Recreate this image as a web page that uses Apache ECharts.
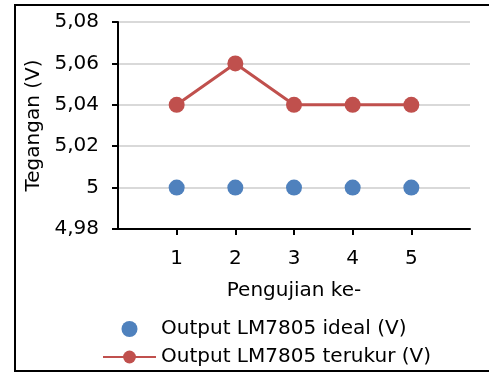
<!DOCTYPE html>
<html>
<head>
<meta charset="utf-8">
<script src="https://cdn.jsdelivr.net/npm/echarts@6/dist/echarts.min.js"></script>
<style>
  html, body { margin: 0; padding: 0; background: #fff; }
  #chart { width: 489px; height: 372px; }
</style>
</head>
<body>
<div id="chart"></div>
<script>
// Test number (x) and measured voltages (y)
const testNumbers = [1, 2, 3, 4, 5];
const idealOutput = [5.00, 5.00, 5.00, 5.00, 5.00];
const measuredOutput = [5.04, 5.06, 5.04, 5.04, 5.04];
const seriesNames = ['Output LM7805 ideal (V)', 'Output LM7805 terukur (V)'];
const xAxisTitle = 'Pengujian ke-';
const yAxisTitle = 'Tegangan (V)';

const FONT = 'DejaVu Sans';
const chart = echarts.init(document.getElementById('chart'), null, { renderer: 'canvas' });

const pairs = (ys) => testNumbers.map((x, i) => [x, ys[i]]);
const commaNum = (v) => String(Math.round(v * 100) / 100).replace('.', ',');

chart.setOption({
  animation: false,
  textStyle: { fontFamily: FONT },
  grid: { left: 118, right: 19, top: 22, bottom: 143, containLabel: false },
  graphic: [{
    type: 'rect',
    shape: { x: 15, y: 5, width: 520, height: 366 },
    style: { fill: 'none', stroke: '#000', lineWidth: 2 },
    silent: true
  }],
  legend: {
    orient: 'vertical',
    left: 102,
    top: 319,
    height: 52,
    padding: 0,
    itemWidth: 53,
    itemHeight: 16,
    itemGap: 8,
    textStyle: { fontFamily: FONT, fontSize: 20, color: '#000' },
    data: seriesNames
  },
  xAxis: {
    type: 'value',
    min: 0, max: 6, interval: 1,
    name: xAxisTitle,
    nameLocation: 'middle',
    nameGap: 52,
    nameTextStyle: { fontFamily: FONT, fontSize: 20, color: '#000' },
    axisLine: { lineStyle: { color: '#000', width: 2 } },
    axisTick: { show: true, length: 6, lineStyle: { color: '#000', width: 2 } },
    axisLabel: {
      fontFamily: FONT, fontSize: 20, color: '#000', margin: 20,
      showMinLabel: false, showMaxLabel: false,
      formatter: (v) => (v >= 1 && v <= 5) ? String(v) : ''
    },
    splitLine: { show: false }
  },
  yAxis: {
    type: 'value',
    min: 4.98, max: 5.08, interval: 0.02,
    name: yAxisTitle,
    nameLocation: 'middle',
    nameGap: 63,
    nameTextStyle: { fontFamily: FONT, fontSize: 20, color: '#000' },
    axisLine: { show: true, lineStyle: { color: '#000', width: 2 } },
    axisTick: { show: true, length: 6, lineStyle: { color: '#000', width: 2 } },
    axisLabel: { fontFamily: FONT, fontSize: 20, color: '#000', margin: 19, formatter: commaNum },
    splitLine: { show: true, lineStyle: { color: '#D9D9D9', width: 2 } }
  },
  series: [
    {
      name: seriesNames[0],
      type: 'scatter',
      symbol: 'circle',
      symbolSize: 16,
      itemStyle: { color: '#4F81BD', opacity: 1 },
      data: pairs(idealOutput)
    },
    {
      name: seriesNames[1],
      type: 'line',
      symbol: 'circle',
      symbolSize: 16,
      showAllSymbol: true,
      lineStyle: { color: '#C0504D', width: 3 },
      itemStyle: { color: '#C0504D', opacity: 1 },
      data: pairs(measuredOutput)
    }
  ]
});
</script>
</body>
</html>
